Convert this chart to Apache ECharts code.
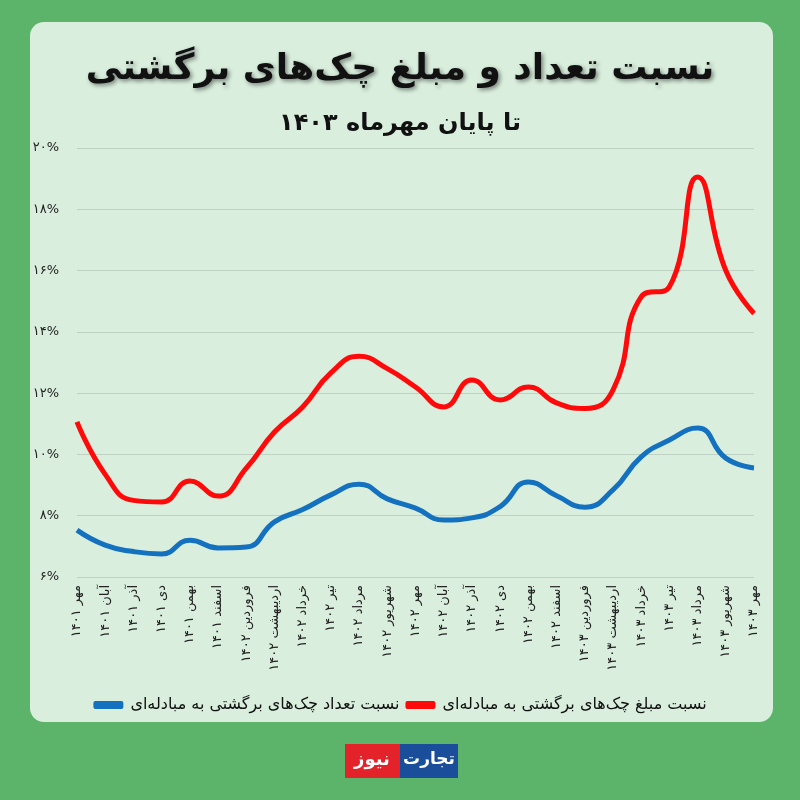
<!DOCTYPE html>
<html>
<head>
<meta charset="utf-8">
<script src="https://cdn.jsdelivr.net/npm/echarts@6/dist/echarts.min.js"></script>
<style>
html,body{margin:0;padding:0;background:#5cb36a;}
#chart{width:800px;height:800px;}
</style>
</head>
<body>
<div id="chart"></div>
<script>
const categories = [
  'مهر ۱۴۰۱','آبان ۱۴۰۱','آذر ۱۴۰۱','دی ۱۴۰۱','بهمن ۱۴۰۱','اسفند ۱۴۰۱',
  'فروردین ۱۴۰۲','اردیبهشت ۱۴۰۲','خرداد ۱۴۰۲','تیر ۱۴۰۲','مرداد ۱۴۰۲','شهریور ۱۴۰۲',
  'مهر ۱۴۰۲','آبان ۱۴۰۲','آذر ۱۴۰۲','دی ۱۴۰۲','بهمن ۱۴۰۲','اسفند ۱۴۰۲',
  'فروردین ۱۴۰۳','اردیبهشت ۱۴۰۳','خرداد ۱۴۰۳','تیر ۱۴۰۳','مرداد ۱۴۰۳','شهریور ۱۴۰۳','مهر ۱۴۰۳'
];
const amountRatio = [11.06,9.35,8.5,8.45,9.13,8.64,9.55,10.73,11.55,12.66,13.2,12.8,12.2,11.55,12.43,11.78,12.2,11.68,11.5,12.1,15.14,15.47,19.05,16.0,14.6];
const countRatio = [7.53,7.04,6.83,6.75,7.2,6.95,6.98,7.8,8.2,8.68,9.03,8.55,8.25,7.86,7.93,8.3,9.1,8.65,8.28,8.84,9.92,10.47,10.86,9.88,9.56];
const yMin = 6, yMax = 20, yStep = 2;
const nameAmount = 'نسبت مبلغ چک‌های برگشتی به مبادله‌ای';
const nameCount = 'نسبت تعداد چک‌های برگشتی به مبادله‌ای';
const titleText = 'نسبت تعداد و مبلغ چک‌های برگشتی';
const subtitleText = 'تا پایان مهرماه ۱۴۰۳';
const logoRed = 'نیوز';
const logoBlue = 'تجارت';

function toFa(s){return String(s).replace(/[0-9]/g,d=>'۰۱۲۳۴۵۶۷۸۹'[d]);}
const FONT = "'DejaVu Sans', sans-serif";

const chart = echarts.init(document.getElementById('chart'));
chart.setOption({
  backgroundColor: '#5cb36a',
  animation: false,
  graphic: [
    {type:'rect', shape:{x:30,y:22,width:743,height:700,r:14}, style:{fill:'#d9eedd'}, z:-10},
    {type:'rect', shape:{x:345,y:744,width:55,height:34}, style:{fill:'#e3222a'}},
    {type:'rect', shape:{x:400,y:744,width:58,height:34}, style:{fill:'#1a4e9a'}},
    {type:'text', x:372, y:760, style:{text:logoRed, fill:'#fff', font:"bold 18px "+FONT, textAlign:'center', textVerticalAlign:'middle'}},
    {type:'text', x:429, y:760, style:{text:logoBlue, fill:'#fff', font:"bold 17px "+FONT, textAlign:'center', textVerticalAlign:'middle'}}
  ],
  title: [
    {text: titleText, left:'center', top:47,
     textStyle:{fontFamily:FONT, fontSize:36, fontWeight:'bold', color:'#111',
       textShadowColor:'rgba(0,0,0,0.45)', textShadowBlur:4, textShadowOffsetX:2, textShadowOffsetY:2}},
    {text: subtitleText, left:'center', top:107,
     textStyle:{fontFamily:FONT, fontSize:24, fontWeight:'bold', color:'#111'}}
  ],
  legend: {
    data:[nameCount, nameAmount],
    bottom: 82, left:'center',
    itemWidth: 30, itemHeight: 8, itemGap: 6,
    icon: 'roundRect',
    textStyle:{fontFamily:FONT, fontSize:16, color:'#111', padding:[0,0,0,2]}
  },
  grid: {left:77, right:46, top:148, bottom:223},
  xAxis: {
    type:'category', data:categories, boundaryGap:false,
    axisLine:{show:false}, axisTick:{show:false},
    axisLabel:{rotate:90, interval:0, margin:8, fontFamily:FONT, fontSize:13, color:'#222'}
  },
  yAxis: {
    type:'value', min:yMin, max:yMax, interval:yStep,
    axisLine:{show:false}, axisTick:{show:false},
    splitLine:{lineStyle:{color:'rgba(0,0,0,0.12)', width:1}},
    axisLabel:{margin:18, fontFamily:FONT, fontSize:13, color:'#222', formatter:v=>toFa(v)+'%'}
  },
  series: [
    {name:nameCount, type:'line', data:countRatio, smooth:0.5, symbol:'none',
     lineStyle:{color:'#1471c0', width:5}, itemStyle:{color:'#1471c0'}},
    {name:nameAmount, type:'line', data:amountRatio, smooth:0.5, symbol:'none',
     lineStyle:{color:'#ff0a0a', width:5}, itemStyle:{color:'#ff0a0a'}}
  ]
});
</script>
</body>
</html>
